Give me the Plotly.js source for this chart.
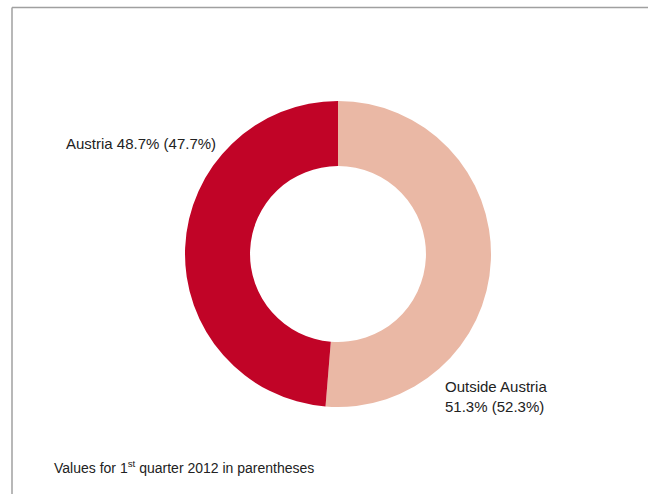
<!DOCTYPE html>
<html>
<head>
<meta charset="utf-8">
<script src="https://cdn.plot.ly/plotly-3.0.1.min.js"></script>
<style>html,body{margin:0;padding:0;background:#fff;}#chart{width:648px;height:494px;}</style>
</head>
<body>
<div id="chart"></div>
<script>
const regions = ["Austria", "Outside Austria"];
const shares = [48.7, 51.3];
const previousShares = [47.7, 52.3];
const colors = ["#c10427", "#eab8a5"];
const footnote = "Values for 1<sup>st</sup> quarter 2012 in parentheses";

const W = 648, H = 494;
const cx = 338, cy = 254, r = 153;
const fontFam = "'Liberation Sans Narrow', 'Arial Narrow', 'Liberation Sans', sans-serif";

// Outside Austria drawn first, clockwise from 12 o'clock, so Austria lands on the left
const order = [1, 0];
const trace = {
  type: "pie",
  labels: order.map(i => regions[i]),
  values: order.map(i => shares[i]),
  sort: false,
  direction: "clockwise",
  rotation: 0,
  hole: 0.575,
  marker: {colors: order.map(i => colors[i]), line: {width: 0}},
  textinfo: "none",
  hoverinfo: "label+percent",
  showlegend: false,
  domain: {x: [(cx - r) / W, (cx + r) / W], y: [1 - (cy + r) / H, 1 - (cy - r) / H]}
};

const fmt = v => v.toFixed(1) + "%";
const layout = {
  width: W, height: H,
  margin: {l: 0, r: 0, t: 0, b: 0},
  paper_bgcolor: "#fff",
  showlegend: false,
  font: {family: fontFam, size: 14, color: "#222"},
  shapes: [
    {type: "line", xref: "paper", yref: "paper", x0: 12 / W, x1: 1, y0: 1 - 7.5 / H, y1: 1 - 7.5 / H, line: {color: "#a0a0a0", width: 1.5}},
    {type: "line", xref: "paper", yref: "paper", x0: 12 / W, x1: 12 / W, y0: 0, y1: 1 - 7.5 / H, line: {color: "#a0a0a0", width: 1.5}}
  ],
  annotations: [
    {xref: "paper", yref: "paper", x: 64 / W, y: 1 - 143 / H, xanchor: "left", yanchor: "middle", showarrow: false,
     text: regions[0] + " " + fmt(shares[0]) + " (" + fmt(previousShares[0]) + ")", font: {family: fontFam, size: 15, color: "#222"}},
    {xref: "paper", yref: "paper", x: 443 / W, y: 1 - 396 / H, xanchor: "left", yanchor: "middle", showarrow: false, align: "left",
     text: regions[1] + "<br>" + fmt(shares[1]) + " (" + fmt(previousShares[1]) + ")", font: {family: fontFam, size: 15, color: "#222"}},
    {xref: "paper", yref: "paper", x: 52 / W, y: 1 - 467 / H, xanchor: "left", yanchor: "middle", showarrow: false,
     text: footnote, font: {family: fontFam, size: 14, color: "#222"}}
  ]
};

Plotly.newPlot("chart", [trace], layout, {displayModeBar: false, staticPlot: true});
</script>
</body>
</html>
